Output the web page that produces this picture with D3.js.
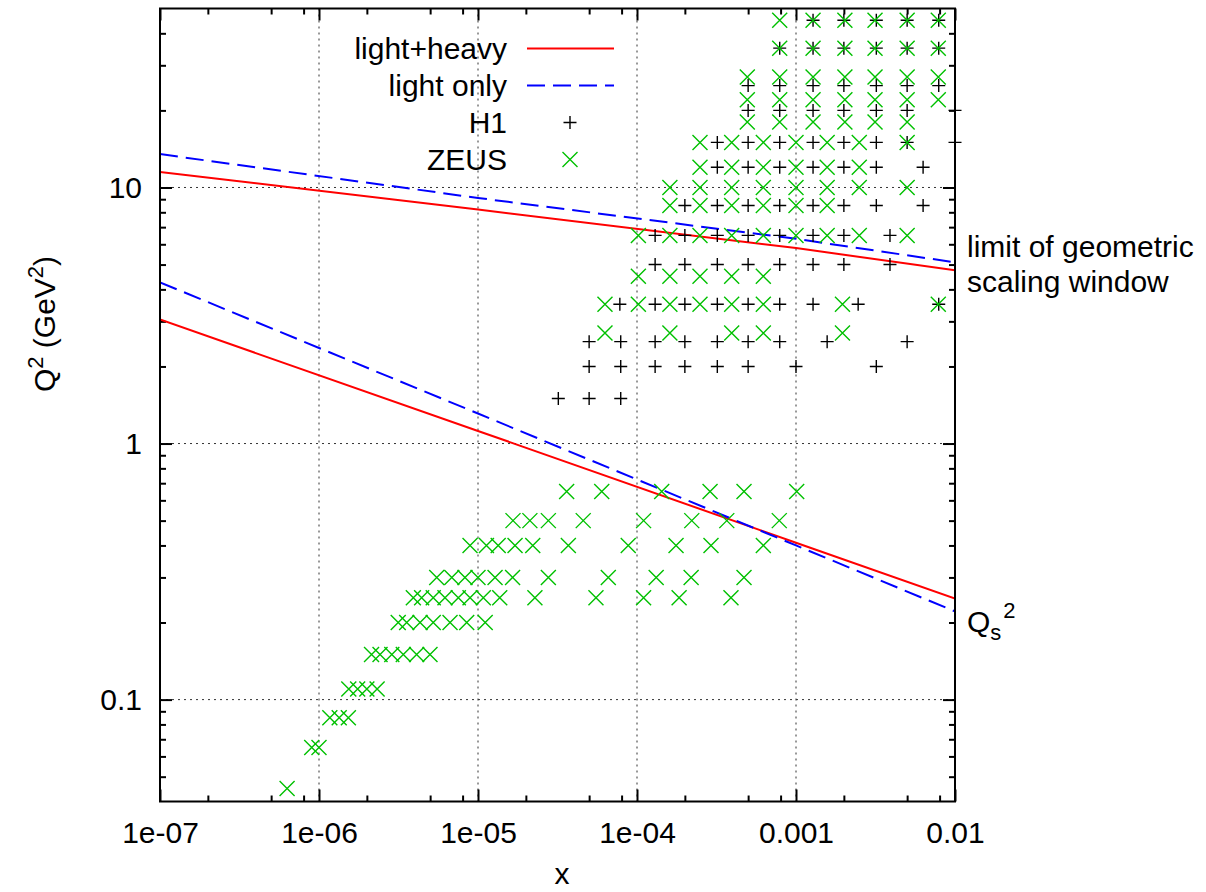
<!DOCTYPE html>
<html><head><meta charset="utf-8">
<script src="https://cdn.jsdelivr.net/npm/d3@7"></script>
<style>
body{margin:0;background:#fff;}
svg text{font-family:"Liberation Sans",Arial,Helvetica,sans-serif;fill:#000;}
</style></head>
<body><svg id="c" width="1206" height="892"></svg>
<script>
// ---------- data ----------
const xMajorTicks = [1e-7,1e-6,1e-5,1e-4,1e-3,1e-2];
const xTickLabels = ["1e-07","1e-06","1e-05","1e-04","0.001","0.01"];
const yMajorTicks = [0.1,1,10];
const yTickLabels = ["0.1","1","10"];
const xMinorMult = [2,5,8];
const yMinorMult = [2,3,4,5,6,7,8,9];

const curveX = [1e-7,1e-5,1e-3,1e-2];
const lightHeavyUpper = [11.5,8.2,5.8,4.75];
const lightOnlyUpper  = [13.5,9.1,6.3,5.1];
const lightHeavyQs    = [3.05,1.12,0.41,0.248];
const lightOnlyQs     = [4.26,1.31,0.40,0.221];

const h1Q2 = [1.5,2,2.5,3.5,5,6.5,8.5,12,15,20,25,35,45];
const h1X = [
 [3.2e-5,5.0e-5,7.9e-5],
 [5.0e-5,7.9e-5,1.3e-4,2.0e-4,3.2e-4,5.0e-4,1.0e-3,3.2e-3],
 [5.0e-5,7.9e-5,1.3e-4,2.0e-4,3.2e-4,5.0e-4,7.9e-4,1.57e-3,5.0e-3],
 [7.8e-5,1.3e-4,2.0e-4,3.2e-4,5.0e-4,7.9e-4,1.28e-3,2.46e-3,7.9e-3],
 [1.3e-4,2.0e-4,3.2e-4,5.0e-4,7.9e-4,1.28e-3,2.0e-3,3.9e-3],
 [1.3e-4,2.0e-4,3.2e-4,5.0e-4,7.9e-4,1.28e-3,2.0e-3,3.9e-3],
 [2.0e-4,3.2e-4,5.0e-4,7.9e-4,1.28e-3,2.0e-3,3.2e-3,6.3e-3],
 [3.2e-4,5.0e-4,7.9e-4,1.28e-3,2.0e-3,3.2e-3,6.3e-3],
 [3.2e-4,5.0e-4,7.9e-4,1.28e-3,2.0e-3,3.2e-3,5.0e-3,1.0e-2],
 [5.0e-4,7.9e-4,1.28e-3,2.0e-3,3.2e-3,5.0e-3,1.0e-2],
 [5.0e-4,7.9e-4,1.28e-3,2.0e-3,3.2e-3,5.0e-3,7.9e-3],
 [7.9e-4,1.28e-3,2.0e-3,3.2e-3,5.0e-3,7.9e-3],
 [1.28e-3,2.0e-3,3.2e-3,5.0e-3,7.9e-3]
];

const zeusQ2 = [0.045,0.065,0.085,0.11,0.15,0.2,0.25,0.3,0.4,0.5,0.65,
                2.7,3.5,4.5,6.5,8.5,10,12,15,18,22,27,35,45];
const zeusX = [
 [6.3e-7],
 [9.0e-7,1.0e-6],
 [1.17e-6,1.34e-6,1.53e-6],
 [1.54e-6,1.75e-6,2.0e-6,2.32e-6],
 [2.14e-6,2.42e-6,2.87e-6,3.39e-6,4.11e-6,4.99e-6],
 [3.15e-6,3.56e-6,4.32e-6,5.23e-6,6.67e-6,8.49e-6,1.11e-5],
 [3.92e-6,4.42e-6,5.23e-6,6.2e-6,7.52e-6,8.91e-6,1.08e-5,1.37e-5,2.28e-5,5.52e-5,1.1e-4,1.84e-4,3.9e-4],
 [5.5e-6,6.84e-6,8.28e-6,1.0e-5,1.28e-5,1.65e-5,2.77e-5,6.6e-5,1.32e-4,2.19e-4,4.71e-4],
 [8.91e-6,1.13e-5,1.34e-5,1.71e-5,2.21e-5,3.7e-5,8.81e-5,1.76e-4,2.92e-4,6.23e-4],
 [1.66e-5,2.12e-5,2.77e-5,4.59e-5,1.1e-4,2.21e-4,3.67e-4,7.85e-4],
 [3.61e-5,6.0e-5,1.43e-4,2.88e-4,4.71e-4,1.01e-3],
 [6.29e-5,1.61e-4,3.94e-4,6.23e-4,1.96e-3],
 [6.29e-5,1.02e-4,1.61e-4,2.49e-4,3.94e-4,6.23e-4,1.96e-3,7.85e-3],
 [1.02e-4,1.61e-4,2.49e-4,3.94e-4,6.23e-4],
 [1.02e-4,1.61e-4,2.49e-4,3.94e-4,6.23e-4,1.0e-3,1.57e-3,2.5e-3,5.0e-3],
 [1.61e-4,2.49e-4,3.94e-4,6.23e-4,1.0e-3,1.57e-3],
 [1.61e-4,2.49e-4,3.94e-4,6.23e-4,1.0e-3,1.57e-3,2.5e-3,5.0e-3],
 [2.49e-4,3.94e-4,6.23e-4,1.0e-3,1.57e-3,2.5e-3],
 [2.49e-4,3.94e-4,6.23e-4,1.0e-3,1.57e-3,2.5e-3,5.0e-3],
 [4.94e-4,7.9e-4,1.28e-3,2.03e-3,3.14e-3,5.0e-3],
 [4.94e-4,7.9e-4,1.28e-3,2.03e-3,3.14e-3,5.0e-3,7.85e-3],
 [4.94e-4,7.9e-4,1.28e-3,2.03e-3,3.14e-3,5.0e-3,7.85e-3],
 [7.9e-4,1.28e-3,2.03e-3,3.14e-3,5.0e-3,7.85e-3],
 [7.9e-4,1.28e-3,2.03e-3,3.14e-3,5.0e-3,7.85e-3]
];

const legendLabels = ["light+heavy","light only","H1","ZEUS"];

// ---------- layout ----------
const L=160, R=955, T=8.5, B=801.5, FS=30;
const svg = d3.select("#c");
const x = d3.scaleLog().domain([1e-7,1e-2]).range([L,R]);
const y = d3.scaleLog().domain([0.04,50]).range([B,T]);

const xMinor = [];
xMajorTicks.slice(0,-1).forEach(d=>xMinorMult.forEach(m=>xMinor.push(d*m)));
const yMinor = [];
[0.01,0.1,1,10].forEach(d=>yMinorMult.forEach(m=>{const v=d*m; if(v>0.0401 && v<49.9) yMinor.push(v);}));

// grid
const grid = svg.append("g").attr("stroke","#333").attr("stroke-width",1).attr("stroke-dasharray","2,4").attr("fill","none");
xMajorTicks.slice(1,-1).forEach(v=>grid.append("line").attr("x1",x(v)).attr("x2",x(v)).attr("y1",T).attr("y2",B));
yMajorTicks.forEach(v=>grid.append("line").attr("x1",L).attr("x2",R).attr("y1",y(v)).attr("y2",y(v)));

// axes
function styleAxis(g){ g.select(".domain").remove(); g.selectAll("line").attr("stroke","#000").attr("stroke-width",2);
  g.selectAll("text").attr("font-size",FS).attr("font-family","Liberation Sans, Arial, sans-serif").attr("fill","#000"); }
const fmtX = v=>xTickLabels[xMajorTicks.findIndex(t=>Math.abs(t/v-1)<1e-6)];
const fmtY = v=>yTickLabels[yMajorTicks.findIndex(t=>Math.abs(t/v-1)<1e-6)];

svg.append("g").attr("transform",`translate(0,${B})`)
  .call(d3.axisBottom(x).tickValues(xMajorTicks).tickSize(-12).tickPadding(20).tickFormat(fmtX)).call(styleAxis);
svg.append("g").attr("transform",`translate(0,${B})`)
  .call(d3.axisBottom(x).tickValues(xMinor).tickSize(-6).tickFormat("")).call(styleAxis);
svg.append("g").attr("transform",`translate(0,${T})`)
  .call(d3.axisTop(x).tickValues(xMajorTicks).tickSize(-12).tickFormat("")).call(styleAxis);
svg.append("g").attr("transform",`translate(0,${T})`)
  .call(d3.axisTop(x).tickValues(xMinor).tickSize(-6).tickFormat("")).call(styleAxis);
svg.append("g").attr("transform",`translate(${L},0)`)
  .call(d3.axisLeft(y).tickValues(yMajorTicks).tickSize(-12).tickPadding(18).tickFormat(fmtY)).call(styleAxis);
svg.append("g").attr("transform",`translate(${L},0)`)
  .call(d3.axisLeft(y).tickValues(yMinor).tickSize(-6).tickFormat("")).call(styleAxis);
svg.append("g").attr("transform",`translate(${R},0)`)
  .call(d3.axisRight(y).tickValues(yMajorTicks).tickSize(-12).tickFormat("")).call(styleAxis);
svg.append("g").attr("transform",`translate(${R},0)`)
  .call(d3.axisRight(y).tickValues(yMinor).tickSize(-6).tickFormat("")).call(styleAxis);

// clip for curves
svg.append("clipPath").attr("id","pc").append("rect").attr("x",L).attr("y",T).attr("width",R-L).attr("height",B-T);

const line = d3.line().x(d=>x(d[0])).y(d=>y(d[1]));
const cg = svg.append("g").attr("clip-path","url(#pc)").attr("fill","none").attr("stroke-width",2);
[[lightHeavyUpper,"#ff0000",null],[lightHeavyQs,"#ff0000",null],
 [lightOnlyUpper,"#0000ff","18,8"],[lightOnlyQs,"#0000ff","18,8"]].forEach(([vals,col,dash])=>{
  cg.append("path").attr("d",line(curveX.map((xv,i)=>[xv,vals[i]]))).attr("stroke",col)
    .attr("stroke-dasharray",dash);
});

// markers
function plus(g,cx,cy){ const s=6.5;
  g.append("path").attr("d",`M${cx-s},${cy}H${cx+s}M${cx},${cy-s}V${cy+s}`); }
function cross(g,cx,cy){ const s=7.5;
  g.append("path").attr("d",`M${cx-s},${cy-s}L${cx+s},${cy+s}M${cx-s},${cy+s}L${cx+s},${cy-s}`); }

const hg = svg.append("g").attr("stroke","#000").attr("stroke-width",1.4).attr("fill","none");
h1Q2.forEach((q,i)=>h1X[i].forEach(xv=>plus(hg,x(xv),y(q))));
const zg = svg.append("g").attr("stroke","#00c000").attr("stroke-width",1.4).attr("fill","none");
zeusQ2.forEach((q,i)=>zeusX[i].forEach(xv=>cross(zg,x(xv),y(q))));

// border
svg.append("rect").attr("x",L).attr("y",T).attr("width",R-L).attr("height",B-T)
  .attr("fill","none").attr("stroke","#000").attr("stroke-width",2);

// legend
const legY = [48.5,85.5,122.5,159.5];
const lg = svg.append("g");
legendLabels.forEach((t,i)=>{
  lg.append("text").attr("x",507).attr("y",legY[i]+10.5).attr("text-anchor","end").attr("font-size",FS).text(t);
});
lg.append("line").attr("x1",527).attr("x2",614).attr("y1",legY[0]).attr("y2",legY[0]).attr("stroke","#ff0000").attr("stroke-width",2);
lg.append("line").attr("x1",527).attr("x2",614).attr("y1",legY[1]).attr("y2",legY[1]).attr("stroke","#0000ff").attr("stroke-width",2).attr("stroke-dasharray","18,8");
const lh = lg.append("g").attr("stroke","#000").attr("stroke-width",1.4).attr("fill","none"); plus(lh,570,legY[2]);
const lz = lg.append("g").attr("stroke","#00c000").attr("stroke-width",1.4).attr("fill","none"); cross(lz,570,legY[3]);

// axis labels
svg.append("text").attr("x",562).attr("y",884).attr("text-anchor","middle").attr("font-size",FS).text("x");
const yl = svg.append("text").attr("transform","translate(55,324) rotate(-90)").attr("text-anchor","middle").attr("font-size",FS);
yl.append("tspan").text("Q");
yl.append("tspan").attr("font-size",22).attr("dy",-12).text("2");
yl.append("tspan").attr("dy",12).text(" (GeV");
yl.append("tspan").attr("font-size",22).attr("dy",-12).text("2");
yl.append("tspan").attr("dy",12).text(")");

// annotations
svg.append("text").attr("x",967).attr("y",257).attr("font-size",FS).text("limit of geometric");
svg.append("text").attr("x",967).attr("y",292).attr("font-size",FS).text("scaling window");
const qs = svg.append("text").attr("x",967).attr("y",632).attr("font-size",FS);
qs.append("tspan").text("Q");
qs.append("tspan").attr("font-size",22).attr("dy",8).text("s");
qs.append("tspan").attr("font-size",22).attr("dy",-22).attr("dx",2).text("2");
</script></body></html>
